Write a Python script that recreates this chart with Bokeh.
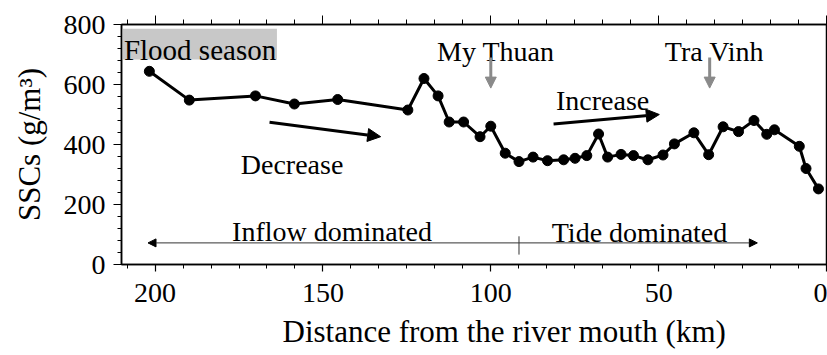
from bokeh.plotting import figure
from bokeh.models import (Range1d, LinearAxis, SingleIntervalTicker, Label, Arrow,
                          NormalHead, BoxAnnotation, Title, CustomJSTickFormatter)
from bokeh.embed import file_html
from bokeh.resources import INLINE

# Data (distance from river mouth in km, SSC in g/m3)
distance_km = [201.7, 189.8, 170.1, 158.5, 145.6, 124.7, 119.9, 115.7, 112.4, 108.1,
               103.2, 100.0, 95.7, 91.6, 87.4, 83.1, 78.3, 74.9, 71.4, 67.9,
               65.2, 61.2, 57.5, 53.2, 48.7, 45.3, 39.5, 35.1, 30.8, 26.2,
               21.6, 17.8, 15.5, 8.1, 6.1, 2.4]
ssc = [644, 548, 562, 535, 550, 515, 620, 562, 475, 475,
       426, 461, 371, 343, 358, 346, 349, 354, 363, 435,
       358, 367, 363, 349, 365, 402, 439, 366, 459, 443,
       480, 434, 449, 394, 320, 252]

x_title = "Distance from the river mouth (km)"
y_title = "SSCs (g/m\u00b3)"

FONT = "Liberation Serif"

p = figure(width=827, height=355, output_backend="svg", toolbar_location=None,
           x_range=Range1d(210, 0), y_range=Range1d(0, 800),
           min_border_left=121, min_border_right=1, min_border_top=24, min_border_bottom=90,
           background_fill_color="white", border_fill_color="white")
p.grid.visible = False
p.outline_line_color = "black"
p.outline_line_width = 1.5

xt = SingleIntervalTicker(interval=50, num_minor_ticks=6)
yt = SingleIntervalTicker(interval=200, num_minor_ticks=5)

xa = p.xaxis[0]
xa.ticker = xt
ya = p.yaxis[0]
ya.ticker = yt
for ax in (xa, ya):
    ax.axis_line_color = "black"
    ax.axis_line_width = 1.5
    ax.major_tick_line_color = "black"
    ax.minor_tick_line_color = "black"
    ax.major_tick_line_width = 1.2
    ax.minor_tick_line_width = 1
    ax.major_tick_in = 0
    ax.minor_tick_in = 0
    ax.major_label_text_font = FONT
    ax.major_label_text_font_size = "28px"
    ax.major_label_text_color = "black"
xa.major_tick_out = 7
xa.minor_tick_out = 4
xa.major_label_standoff = 12
ya.major_tick_out = 8
ya.minor_tick_out = 4
ya.major_label_standoff = 8
ya.axis_label = y_title
ya.axis_label_text_font = FONT
ya.axis_label_text_font_size = "31px"
ya.axis_label_text_font_style = "normal"
ya.axis_label_text_color = "black"
ya.axis_label_standoff = 14

top = LinearAxis(ticker=xt, formatter=CustomJSTickFormatter(code="return ''"),
                 major_tick_out=9, minor_tick_out=5, major_tick_in=0, minor_tick_in=0,
                 axis_line_color="black", axis_line_width=1.5, major_label_standoff=0,
                 major_label_text_font_size="1px")
p.add_layout(top, "above")

# x-axis title (placed as a below title so it can be offset like the original)
p.add_layout(Title(text=x_title, align="left", offset=161, text_font=FONT,
                   text_font_size="31px", text_font_style="normal", text_color="black",
                   standoff=14, vertical_align="bottom"), "below")

# Data line and markers
p.line(distance_km, ssc, line_color="black", line_width=3)
p.scatter(distance_km, ssc, size=10, fill_color="black", line_color="black")

# Flood season box
p.add_layout(BoxAnnotation(left=209.6, right=163.7, bottom=683, top=786,
                           fill_color="#c8c8c8", fill_alpha=1, line_color=None))


def lab(x, y, t, size="28px"):
    p.add_layout(Label(x=x, y=y, text=t, text_font=FONT, text_font_size=size,
                       text_align="center", text_baseline="alphabetic",
                       text_color="black"))


lab(186.6, 714, "Flood season", size="29px")
lab(98.5, 711, "My Thuan")
lab(33.4, 711, "Tra Vinh")
lab(66.7, 548, "Increase")
lab(159.2, 335, "Decrease")
lab(147.3, 110, "Inflow dominated")
lab(55.7, 108, "Tide dominated")

# Gray location arrows
for xk in (100.0, 34.8):
    p.add_layout(Arrow(x_start=xk, y_start=690, x_end=xk, y_end=588,
                       line_color="#8a8a8a", line_width=3,
                       end=NormalHead(size=11, fill_color="#8a8a8a", line_color="#8a8a8a")))

# Trend arrows
p.add_layout(Arrow(x_start=165.9, y_start=474, x_end=132.8, y_end=426,
                   line_color="black", line_width=3,
                   end=NormalHead(size=13, fill_color="black", line_color="black")))
p.add_layout(Arrow(x_start=81.3, y_start=468, x_end=49.8, y_end=500,
                   line_color="black", line_width=3,
                   end=NormalHead(size=13, fill_color="black", line_color="black")))

# Domination range line
p.add_layout(Arrow(x_start=91.6, y_start=72, x_end=202.1, y_end=72,
                   line_color="#333333", line_width=1,
                   end=NormalHead(size=8, fill_color="black", line_color="black")))
p.add_layout(Arrow(x_start=91.6, y_start=72, x_end=20.6, y_end=72,
                   line_color="#333333", line_width=1,
                   end=NormalHead(size=8, fill_color="black", line_color="black")))
p.add_layout(Arrow(x_start=91.6, y_start=33, x_end=91.6, y_end=94,
                   line_color="#333333", line_width=1, end=None))

open("out.html", "w").write(file_html(p, INLINE))
